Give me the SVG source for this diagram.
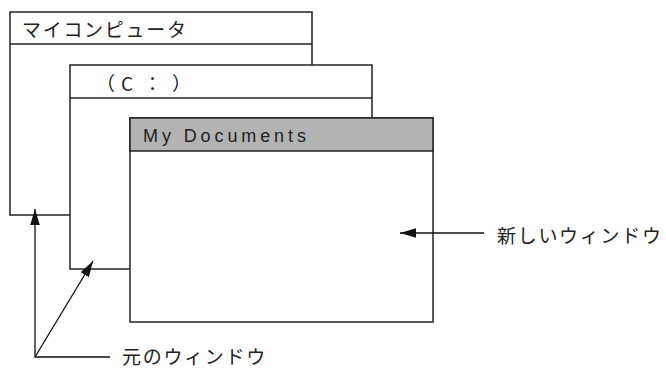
<svg xmlns="http://www.w3.org/2000/svg" width="666" height="368" viewBox="0 0 666 368">
<style>
.win{fill:#fff;stroke:#222;stroke-width:1.5}
.bar{fill:none;stroke:#222;stroke-width:1.5}
.jp{font-family:"Noto Sans CJK JP","Noto Sans",sans-serif;font-size:19px;letter-spacing:1.7px;fill:#222}
.en{font-family:"Liberation Sans",Arial,sans-serif;font-size:18px;letter-spacing:3.9px;fill:#222}
.ln{fill:none;stroke:#111;stroke-width:1.3}
</style>
<defs>
<marker id="ah2" viewBox="0 0 10 10" refX="10" refY="5" markerWidth="16" markerHeight="12" markerUnits="userSpaceOnUse" orient="auto" preserveAspectRatio="none">
<path d="M0,1 L10,5 L0,9 Z" fill="#111"/>
</marker>
</defs>
<g id="win-mycomputer">
<rect class="win" x="10" y="12" width="302" height="203"/>
<line class="bar" x1="10" y1="44" x2="312" y2="44"/>
<text class="jp" x="22" y="37">マイコンピュータ</text>
</g>
<g id="win-c">
<rect class="win" x="70" y="65" width="302" height="204"/>
<line class="bar" x1="70" y1="98" x2="372" y2="98"/>
<text class="jp" x="96 121 143 172" y="91" style="letter-spacing:0">（C：）</text>
</g>
<g id="win-mydocs">
<rect class="win" x="130" y="118" width="303" height="204"/>
<rect x="130" y="118" width="303" height="33" fill="#b3b3b3" stroke="#222" stroke-width="1.5"/>
<text class="en" x="143" y="142">My Documents</text>
</g>
<g id="connectors">
<line class="ln" x1="484" y1="233" x2="400" y2="233" marker-end="url(#ah2)"/>
<polyline class="ln" points="110,357 35,357 35,209" marker-end="url(#ah2)"/>
<line class="ln" x1="35" y1="357" x2="93" y2="261" marker-end="url(#ah2)"/>
</g>
<g id="labels">
<text class="jp" x="497" y="243">新しいウィンドウ</text>
<text class="jp" x="122" y="364">元のウィンドウ</text>
</g>
</svg>
